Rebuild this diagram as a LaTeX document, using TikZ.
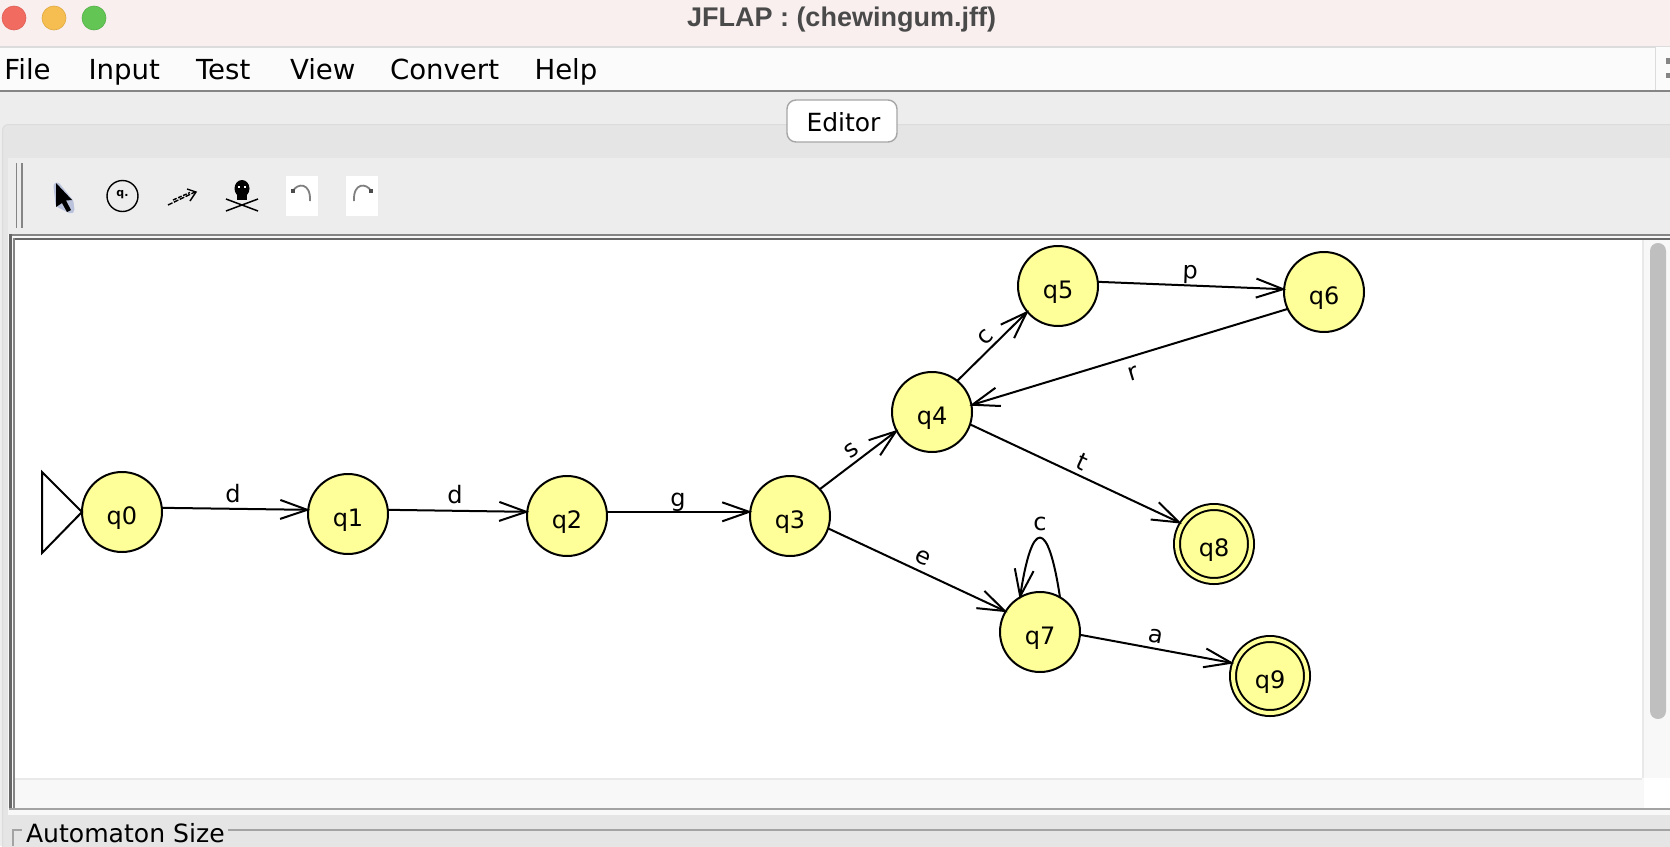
\documentclass[tikz,border=0pt]{standalone}
\usepackage{fontspec}
\setmainfont{DejaVu Sans}
\newfontfamily\titlefont{Liberation Sans}
\usetikzlibrary{arrows.meta}
\definecolor{titlebg}{HTML}{F9EFEF}
\definecolor{titleink}{HTML}{4A4A4A}
\definecolor{menubg}{HTML}{FBFBFB}
\definecolor{barbg}{HTML}{EDEDED}
\definecolor{panelbg}{HTML}{E5E5E5}
\definecolor{hairline}{HTML}{DCDCDC}
\definecolor{framea}{HTML}{858585}
\definecolor{frameb}{HTML}{666666}
\definecolor{framec}{HTML}{A3A3A3}
\definecolor{trackbg}{HTML}{F8F8F8}
\definecolor{trackline}{HTML}{E9E9E9}
\definecolor{thumbc}{HTML}{BFBFBF}
\definecolor{statefill}{HTML}{FFFF99}
\definecolor{lightred}{HTML}{F26B60}
\definecolor{lightredb}{HTML}{DD5F55}
\definecolor{lightyellow}{HTML}{F6BE50}
\definecolor{lightyellowb}{HTML}{E0A93F}
\definecolor{lightgreen}{HTML}{62C554}
\definecolor{lightgreenb}{HTML}{55B048}
\definecolor{glowc}{HTML}{A9B5D6}
\tikzset{
  x=1pt,y=-1pt,
  txt/.style={inner sep=0pt,outer sep=0pt,text=black},
  menuitem/.style={txt,anchor=base west,font=\fontsize{27.6}{30}\selectfont},
  statenode/.style={circle,draw=black,fill=statefill,line width=2pt,minimum size=80pt,inner sep=0pt,outer sep=0pt,
    text height=24pt,text depth=0pt,font=\fontsize{24}{28}\selectfont},
  finalnode/.style={statenode,minimum size=74pt,outer sep=3pt,double=statefill,double distance=4pt,line width=2pt},
  edge/.style={line width=2pt,draw=black,shorten >=-2pt,-{Straight Barb[length=27pt,width=19pt,line width=2pt]}},
  edgelabel/.style={txt,font=\fontsize{24}{28}\selectfont},
  traffic/.style={circle,minimum size=24pt,inner sep=0pt,line width=0.6pt},
}
\begin{document}
\begin{tikzpicture}
\useasboundingbox (0,0) rectangle (1670,846);
\clip (0,0) rectangle (1670,846);
% window bands
\fill[barbg] (0,0) rectangle (1670,846);
\fill[titlebg] (0,0) rectangle (1670,46);
\fill[hairline] (0,46) rectangle (1670,48);
\fill[menubg] (0,48) rectangle (1670,90);
\fill[framea] (0,90) rectangle (1670,92);
\fill[menubg] (1655,47) rectangle (1670,90);
\draw[hairline,line width=1.5pt] (1655.5,47) -- (1655.5,90);
\fill[framea] (1666,58) rectangle (1670,64);
\fill[framea] (1666,73) rectangle (1670,78);
% tabbed panel
\draw[hairline,fill=panelbg,line width=1pt,rounded corners=6pt] (2.5,124.5) rectangle (1680,860);
\fill[barbg] (8,158) rectangle (1670,234);
\draw[framea,line width=1.4pt] (16.5,163) -- (16.5,228);
\draw[framea,line width=1.4pt] (22,163) -- (22,228);
% canvas frame
\fill[trackbg] (8,234) rectangle (1670,815);
\fill[framea] (9,234) rectangle (1670,236);
\fill[frameb] (13,238) rectangle (1670,240);
\fill[frameb] (9,234) rectangle (11.5,810);
\fill[framea] (13,238) rectangle (14.5,808);
\fill[framec] (9,808) rectangle (1670,810);
\fill[white] (15,240) rectangle (1642,778);
\fill[trackline] (15,778) rectangle (1642,780);
\fill[trackline] (1642,240) rectangle (1644,778);
\fill[white] (1644,778) rectangle (1670,808);
\fill[thumbc,rounded corners=7.9pt] (1650,243) rectangle (1666,719);
% lower titled border
\fill[framec] (228,829) rectangle (1670,831);
\draw[framec,line width=1.6pt] (13,846) -- (13,830) -- (22,830);
% traffic lights
\node[traffic,fill=lightred,draw=lightredb] (btnred) at (14,18) {};
\node[traffic,fill=lightyellow,draw=lightyellowb] (btnyellow) at (54,18) {};
\node[traffic,fill=lightgreen,draw=lightgreenb] (btngreen) at (94,18) {};
% title and menus
\node[txt,anchor=base,font=\titlefont\bfseries\fontsize{27}{30}\selectfont,text=titleink] (title) at (841.5,26) {JFLAP : (chewingum.jff)};
\node[menuitem] (mfile) at (4.5,79) {File};
\node[menuitem] (minput) at (88.5,79) {Input};
\node[menuitem] (mtest) at (196,79) {Test};
\node[menuitem] (mview) at (290,79) {View};
\node[menuitem] (mconvert) at (390,79) {Convert};
\node[menuitem] (mhelp) at (534.5,79) {Help};
% Editor tab
\node[draw=black!35,fill=white,line width=1.4pt,rounded corners=9pt,minimum width=110pt,minimum height=42pt,inner sep=0pt] (tabbox) at (842,121) {};
\node[txt,anchor=base,font=\fontsize{25}{28}\selectfont] (tabtext) at (843.5,131) {Editor};
% toolbar icons
\draw[line width=7pt,draw=glowc,line join=round,opacity=.75] (57,186) -- (70,202) -- (71,210) -- (59,204) -- cycle;
\fill[black] (56,183) -- (72,200) -- (66,200.5) -- (71,210) -- (67,212) -- (62,203) -- (56,207) -- cycle;
\node[circle,draw=black,line width=1.4pt,minimum size=31pt,inner sep=0pt] (iconstate) at (122.5,196) {};
\node[txt,font=\bfseries\fontsize{11}{12}\selectfont] (iconq) at (122.5,195) {q.};
\draw[line width=1.4pt,dash pattern=on 5pt off 1.5pt] (168,205) -- (195,192);
\draw[line width=1.4pt,dash pattern=on 4pt off 1.5pt] (173,200) -- (190,192.5);
\draw[line width=1.4pt] (187,189) -- (196,192) -- (190,201);
\fill[black] (242,188.5) ellipse [x radius=7.5pt,y radius=8.5pt];
\fill[black] (237,192) rectangle (247,200);
\fill[white] (238,186) rectangle (240,188);
\fill[white] (244,186) rectangle (246,188);
\draw[line width=1.5pt] (226,199) -- (258,211);
\draw[line width=1.5pt] (226,211) -- (258,199);
\fill[white] (286,176) rectangle (318,216);
\fill[white] (346,176) rectangle (378,216);
\draw[gray,line width=1.8pt] (293,191) .. controls (297,183) and (311,182) .. (310,201);
\fill[black!70] (291,189) rectangle (295,193);
\draw[gray,line width=1.8pt] (371,191) .. controls (367,183) and (353,182) .. (354,201);
\fill[black!70] (369,189) rectangle (373,193);
% footer label
\fill[panelbg] (22,825) rectangle (228,846);
\node[txt,anchor=base west,font=\fontsize{25.1}{28}\selectfont] (sizelabel) at (26,842) {Automaton Size};
% states
\node[statenode] (q0) at (122,512) {q0};
\node[statenode] (q1) at (348,514) {q1};
\node[statenode] (q2) at (567,516) {q2};
\node[statenode] (q3) at (790,516) {q3};
\node[statenode] (q4) at (932,412) {q4};
\node[statenode] (q5) at (1058,286) {q5};
\node[statenode] (q6) at (1324,292) {q6};
\node[statenode] (q7) at (1040,632) {q7};
\node[finalnode] (q8) at (1214,544) {q8};
\node[finalnode] (q9) at (1270,676) {q9};
% initial marker
\coordinate (itop) at (42,472);
\coordinate (ibot) at (42,553);
\draw[line width=2pt,line join=miter] (q0.west) -- (itop) -- (ibot) -- cycle;
% transitions
\draw[edge] (q0.6) -- (q1.174);
\draw[edge] (q1.6) -- (q2.174);
\draw[edge] (q2.6) -- (q3.174);
\draw[edge] (q3.42) -- (q4.208);
\draw[edge] (q4.51) -- (q5.220);
\draw[edge] (q5.6) -- (q6.176);
\draw[edge] (q6.205) -- (q4.10);
\draw[edge] (q4.-18) -- (q8.148);
\draw[edge] (q3.-18) -- (q7.149);
\draw[edge] (q7.-4) -- (q9.161);
\draw[edge] (q7.60) .. controls (1048,518) and (1032,518) .. (q7.120);
% labels
\node[edgelabel] (l1) at (233,494) {d};
\node[edgelabel] (l2) at (455,495) {d};
\node[edgelabel] (l3) at (678,502) {g};
\node[edgelabel,rotate=37] (l4) at (852,450) {s};
\node[edgelabel,rotate=45] (l5) at (986,337) {c};
\node[edgelabel,rotate=-2] (l6) at (1190,275) {p};
\node[edgelabel,rotate=17] (l7) at (1133,374) {r};
\node[edgelabel,rotate=-25] (l8) at (1082,462) {t};
\node[edgelabel,rotate=-25] (l9) at (923,558) {e};
\node[edgelabel,rotate=-10] (l10) at (1156,636) {a};
\node[edgelabel] (l11) at (1040,524) {c};
\end{tikzpicture}
\end{document}
